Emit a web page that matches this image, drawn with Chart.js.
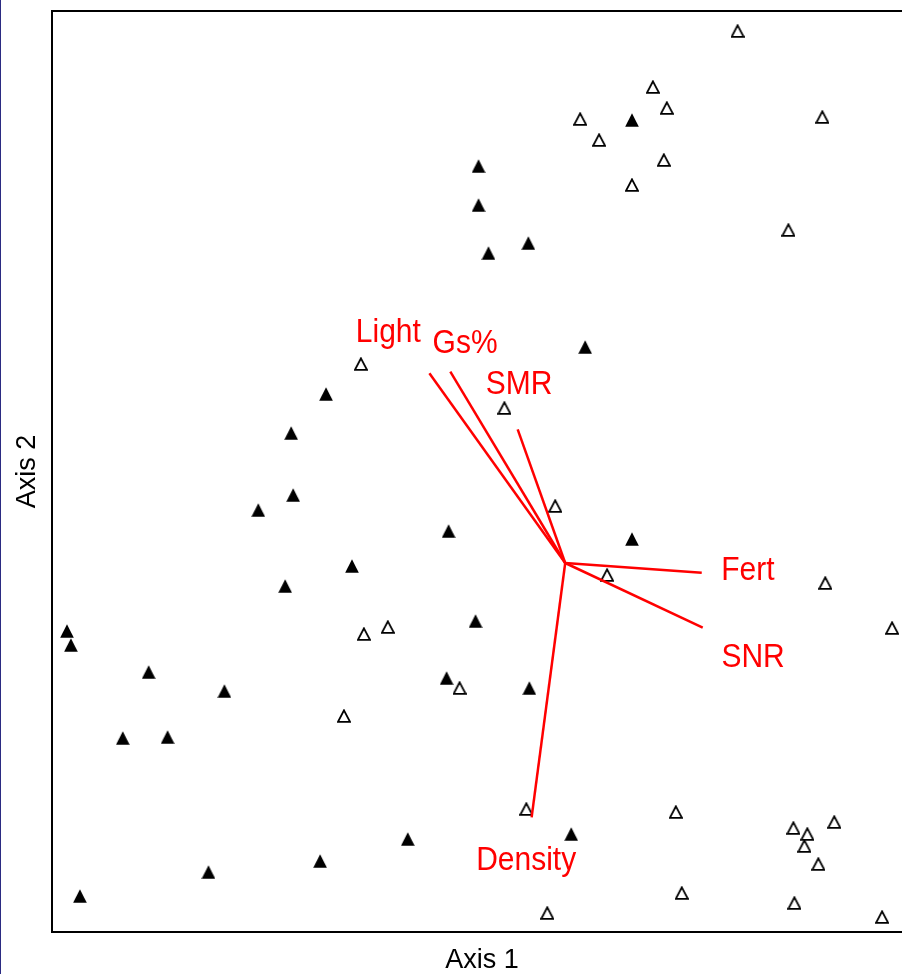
<!DOCTYPE html>
<html>
<head>
<meta charset="utf-8">
<script src="https://cdn.jsdelivr.net/npm/chart.js@4.4.1/dist/chart.umd.min.js"></script>
<style>
  html, body { margin: 0; padding: 0; overflow: hidden; background: #ffffff; }
  #wrap { position: relative; width: 902px; height: 974px; overflow: hidden; }
  #c { display: block; }
  #edge { position: absolute; left: 0; top: 0; width: 1px; height: 974px; background: #2b2b82; }
</style>
</head>
<body>
<div id="wrap">
  <canvas id="c" width="920" height="974"></canvas>
  <div id="edge"></div>
</div>
<script>
// ---- Data (ordination scores) ----
const axisTitleX = 'Axis 1';
const axisTitleY = 'Axis 2';

// open triangles
const openX = [1.73, 0.88, 1.02, 0.15, 2.58, 0.34, 0.99, 0.67, 2.24, -2.05, -0.61, -0.10, 0.42, 2.61, 3.28,
               -2.02, -1.78, -1.06, -2.22, -0.39, 1.11, 2.29, 2.43, 2.70, 2.40, 2.54, 1.17, -0.18, 2.30, 3.18];
const openY = [5.32, 4.76, 4.55, 4.44, 4.46, 4.23, 4.03, 3.78, 3.33, 1.99, 1.55, 0.57, -0.12, -0.20, -0.65,
               -0.71, -0.64, -1.25, -1.53, -2.46, -2.49, -2.65, -2.71, -2.59, -2.83, -3.01, -3.30, -3.50, -3.40, -3.54];

// filled triangles
const filledX = [0.67, -0.87, -0.87, -0.77, -0.37, 0.20, -2.40, -2.75, -2.73, -3.08, -1.17, 0.67, -2.14, -2.81,
                 -0.90, -5.00, -4.96, -4.18, -3.42, -1.19, -0.36, -4.44, -3.99, -1.58, 0.06, -2.46, -3.58, -4.87];
const filledY = [4.43, 3.97, 3.58, 3.10, 3.20, 2.16, 1.69, 1.30, 0.68, 0.53, 0.32, 0.24, -0.03, -0.23,
                 -0.58, -0.68, -0.82, -1.09, -1.28, -1.15, -1.25, -1.75, -1.74, -2.76, -2.71, -2.98, -3.09, -3.33];

// environmental vectors (from origin) and their label positions
const vectorNames = ['Light', 'Gs%', 'SMR', 'Fert', 'SNR', 'Density'];
const vectorX = [-1.363, -1.153, -0.477, 1.370, 1.380, -0.337];
const vectorY = [ 1.897,  1.913,  1.337, -0.097, -0.647, -2.543];
const labelX  = [-1.775, -1.005, -0.462, 1.833, 1.885, -0.392];
const labelY  = [ 2.327,  2.220,  1.810, -0.047, -0.920, -2.950];

// axis ranges
const xRange = [-5.15, 3.48];
const yRange = [-3.69, 5.52];

// ---- Styles ----
const FONT = '"Liberation Sans", Arial, Helvetica, sans-serif';
const RED = '#ff0000';

function makeTriangle(filled) {
  const cv = document.createElement('canvas');
  cv.width = 14; cv.height = 14;
  const g = cv.getContext('2d');
  g.beginPath();
  if (filled) {
    g.moveTo(7, 0.2); g.lineTo(13.8, 13.8); g.lineTo(0.2, 13.8); g.closePath();
    g.fillStyle = '#000'; g.fill();
  } else {
    g.moveTo(7, 1.3); g.lineTo(13.0, 12.9); g.lineTo(1.0, 12.9); g.closePath();
    g.lineWidth = 1.8; g.lineJoin = 'miter'; g.strokeStyle = '#000'; g.stroke();
  }
  return cv;
}
const triOpen = makeTriangle(false);
const triFilled = makeTriangle(true);

const datasets = [];
datasets.push({
  label: 'open', data: openX.map((x, i) => ({x: x, y: openY[i]})),
  pointStyle: triOpen, pointRadius: 7, showLine: false, order: 2
});
datasets.push({
  label: 'filled', data: filledX.map((x, i) => ({x: x, y: filledY[i]})),
  pointStyle: triFilled, pointRadius: 7, showLine: false, order: 2
});
vectorNames.forEach((n, i) => {
  datasets.push({
    label: n, data: [{x: 0, y: 0}, {x: vectorX[i], y: vectorY[i]}],
    showLine: true, borderColor: RED, borderWidth: 2.5, pointRadius: 0,
    fill: false, tension: 0, order: 1
  });
});

const labelPlugin = {
  id: 'vectorLabels',
  afterDatasetsDraw(chart) {
    const ctx = chart.ctx, xs = chart.scales.x, ys = chart.scales.y;
    const size = 30, stretch = 1.1;
    ctx.save();
    ctx.fillStyle = RED;
    ctx.font = size + 'px ' + FONT;
    ctx.textAlign = 'center';
    ctx.textBaseline = 'alphabetic';
    vectorNames.forEach((n, i) => {
      const px = xs.getPixelForValue(labelX[i]);
      const py = ys.getPixelForValue(labelY[i]);
      ctx.save();
      ctx.translate(px, py);
      ctx.scale(1, stretch);
      ctx.fillText(n, 0, 0.716 * size / 2);
      ctx.restore();
    });
    ctx.restore();
  }
};

const framePlugin = {
  id: 'frame',
  afterDatasetsDraw(chart) {
    const a = chart.chartArea, ctx = chart.ctx;
    ctx.save();
    ctx.strokeStyle = '#000';
    ctx.lineWidth = 2;
    ctx.strokeRect(a.left, a.top, a.right - a.left, a.bottom - a.top);
    ctx.restore();
  }
};

new Chart(document.getElementById('c'), {
  type: 'scatter',
  data: { datasets: datasets },
  options: {
    responsive: false,
    animation: false,
    devicePixelRatio: 1,
    layout: { padding: { left: 0, top: 11, right: 5, bottom: 0 } },
    plugins: { legend: { display: false }, tooltip: { enabled: false } },
    scales: {
      x: {
        type: 'linear', position: 'bottom', min: xRange[0], max: xRange[1],
        grid: { display: false, drawTicks: false }, border: { display: false },
        ticks: { display: false },
        title: { display: true, text: axisTitleX, color: '#000',
                 font: { family: FONT, size: 27, lineHeight: 1 }, padding: { top: 0, bottom: 0 } },
        afterFit(s) { s.height = 42; }
      },
      y: {
        type: 'linear', position: 'left', min: yRange[0], max: yRange[1],
        grid: { display: false, drawTicks: false }, border: { display: false },
        ticks: { display: false },
        title: { display: true, text: axisTitleY, color: '#000',
                 font: { family: FONT, size: 27, lineHeight: 1 }, padding: { top: 14, bottom: 0 } },
        afterFit(s) { s.width = 52; }
      }
    }
  },
  plugins: [labelPlugin, framePlugin]
});
</script>
</body>
</html>
